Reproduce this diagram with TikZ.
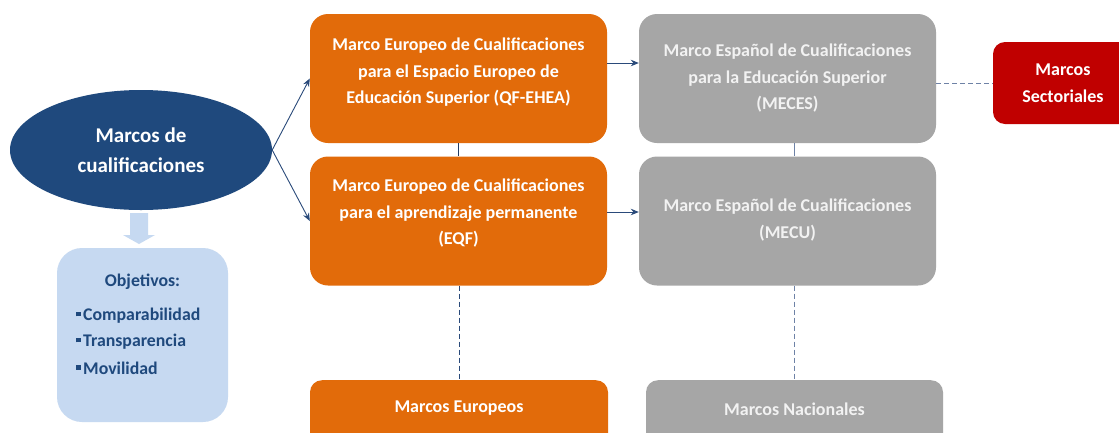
\documentclass[tikz,border=0pt]{standalone}
\usepackage{fontspec}
\setmainfont{Carlito}
\usetikzlibrary{shapes.geometric,arrows.meta}
\definecolor{darkblueC}{HTML}{1F497D}
\definecolor{orangeC}{HTML}{E26B0A}
\definecolor{grayC}{HTML}{A6A6A6}
\definecolor{redC}{HTML}{C00000}
\definecolor{lightblueC}{HTML}{C6D9F1}
\definecolor{arrowC}{HTML}{2A4A7A}
\definecolor{dashC}{HTML}{6E82A6}
\definecolor{grtxtC}{HTML}{F2F2F2}
\begin{document}
\begin{tikzpicture}[x=1pt,y=-1pt,
  box/.style={rounded corners=18pt, minimum width=297pt, minimum height=129pt, inner sep=0pt, draw=none},
  orbox/.style={box, fill=orangeC},
  grbox/.style={box, fill=grayC},
  wtxt/.style={text=white, font=\fontsize{18}{26.5}\selectfont\bfseries, align=center, inner sep=0pt},
  gtxt/.style={wtxt, text=grtxtC},
  btxt/.style={text=darkblueC, font=\fontsize{17.8}{26}\selectfont\bfseries, inner sep=0pt},
  conn/.style={draw=arrowC, line width=0.9pt, -{Stealth[length=8pt,width=6.5pt]}},
  dashline/.style={draw=dashC, line width=0.8pt, dash pattern=on 5pt off 3pt},
  solidline/.style={draw=arrowC!80!black, line width=0.8pt}]
\useasboundingbox (0,0) rectangle (1119,432);
\clip (0,0) rectangle (1119,432);
\fill[white] (0,0) rectangle (1119,432);

% central ellipse
\node[ellipse, fill=darkblueC, minimum width=262pt, minimum height=120pt, inner sep=0pt,
      text=white, font=\fontsize{21}{30}\selectfont\bfseries, align=center] (ell) at (141,150)
      {Marcos de\\cualificaciones};

% block arrow down
\fill[lightblueC] (130,213) -- (148,213) -- (148,235) -- (155,235) -- (139,244) -- (123,235) -- (130,235) -- cycle;

% objectives box
\node[fill=lightblueC, rounded corners=25pt, minimum width=171pt, minimum height=174pt, inner sep=0pt] (obj) at (142.5,335) {};
\node[btxt] (objt) at (142.5,282) {Objetivos:};
\node[btxt, anchor=west] (b1) at (76,316) {\rule[4.5pt]{4.5pt}{4.5pt}\hspace{2.5pt}Comparabilidad};
\node[btxt, anchor=west] (b2) at (76,342) {\rule[4.5pt]{4.5pt}{4.5pt}\hspace{2.5pt}Transparencia};
\node[btxt, anchor=west] (b3) at (76,368) {\rule[4.5pt]{4.5pt}{4.5pt}\hspace{2.5pt}Movilidad};

% orange boxes
\node[orbox] (ob1) at (458.5,78.5) {};
\node[wtxt] (ob1t) at (458.5,72.5) {Marco Europeo de Cualificaciones\\para el Espacio Europeo de\\Educación Superior (QF-EHEA)};
\node[orbox] (ob2) at (458.5,221) {};
\node[wtxt] (ob2t) at (458.5,213.5) {Marco Europeo de Cualificaciones\\para el aprendizaje permanente\\(EQF)};

% gray boxes
\node[grbox] (gb1) at (787.5,78.5) {};
\node[gtxt] (gb1t) at (787.5,78.5) {Marco Español de Cualificaciones\\para la Educación Superior\\(MECES)};
\node[grbox] (gb2) at (787.5,221) {};
\node[gtxt] (gb2t) at (787.5,220) {Marco Español de Cualificaciones\\(MECU)};

% red box
\node[fill=redC, rounded corners=12pt, minimum width=140pt, minimum height=82pt, inner sep=0pt] (rs) at (1063,83) {};
\node[wtxt] (rst) at (1063,83) {Marcos\\Sectoriales};

% bottom boxes
\node[orbox, rounded corners=12pt, minimum height=80pt, minimum width=298pt, anchor=north] (oe) at (459,380) {};
\node[wtxt] (oet) at (459,408) {Marcos Europeos};
\node[grbox, rounded corners=12pt, minimum height=80pt, anchor=north] (gn) at (794.5,380) {};
\node[gtxt] (gnt) at (794.5,409) {Marcos Nacionales};

% connectors
\draw[conn] (ell.east) -- (ob1.west);
\draw[conn] (ell.east) -- (ob2.west);
\draw[conn] ([yshift=15.5pt]ob1.east) -- ([yshift=15.5pt]gb1.west);
\draw[conn] ([yshift=9pt]ob2.east) -- ([yshift=9pt]gb2.west);
\draw[solidline] (ob1.south) -- (ob2.north);
\draw[solidline, draw=dashC] (gn.north |- gb1.south) -- (gn.north |- gb2.north);
\draw[dashline, draw=arrowC] (oe.north |- ob2.south) -- (oe.north);
\draw[dashline] (gn.north |- gb2.south) -- (gn.north);
\draw[dashline] (gb1.east |- rs.west) -- (rs.west);
\end{tikzpicture}
\end{document}
